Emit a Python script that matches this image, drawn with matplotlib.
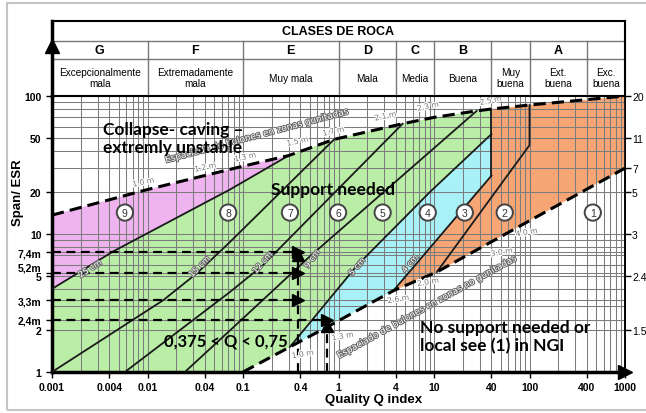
import matplotlib
matplotlib.use('Agg')
import matplotlib.pyplot as plt
import matplotlib.patheffects as pe
from matplotlib.patches import Polygon, Rectangle
from matplotlib.ticker import LogLocator, NullLocator
from matplotlib.transforms import ScaledTranslation
import numpy as np

# === data (Q index, Span/ESR) ===
upper_q = [0.001, 0.01, 0.1, 0.3, 0.9, 4.7, 10, 28, 40, 100, 1000]
upper_v = [13.7, 21, 31, 37, 48.5, 63, 70, 78, 80.5, 86, 100]

lower_q = [0.1, 0.31, 0.76, 3.75, 10.7, 79, 1000]
lower_v = [1, 1.52, 2.12, 3.88, 5.3, 11.4, 30]

cm25_q = [0.001, 0.0044, 0.073, 0.3]
cm25_v = [4.0, 7.5, 21, 37]
cm15_q = [0.001, 0.0071, 0.0145, 0.033, 0.073, 0.9]
cm15_v = [1, 2.4, 3.3, 5.2, 8.75, 48.5]
cm12_q = [0.0058, 0.073, 0.16, 4.7]
cm12_v = [1, 3.8, 5.9, 63]
cm9_q = [0.0246, 0.073, 0.48, 28]
cm9_v = [1, 2.0, 6.7, 78]
cm5_q = [0.31, 1.56, 9.1, 40]
cm5_v = [1.52, 5.9, 20.2, 53]
cm4_q = [3.75, 40]
cm4_v = [3.88, 26.5]
b40_q = [40, 40]
b40_v = [26.5, 80.5]
cat2_q = [10.7, 100, 100]
cat2_v = [5.3, 44, 86]

# rock classes
class_edges = [0.001, 0.01, 0.1, 1, 4, 10, 40, 100, 400, 1000]
class_letters = ['G', 'F', 'E', 'D', 'C', 'B', '', 'A', '']
class_names = ['Excepcionalmente\nmala', 'Extremadamente\nmala', 'Muy mala', 'Mala',
               'Media', 'Buena', 'Muy\nbuena', 'Ext.\nbuena', 'Exc.\nbuena']

# support categories
cat_labels = ['1', '2', '3', '4', '5', '6', '7', '8', '9']
cat_q = [460, 55, 21, 8.6, 2.9, 0.99, 0.31, 0.07, 0.0058]
cat_v = 14.3

# worked example
span_vals = [7.4, 5.2, 3.3]
span24 = 2.4
q_low, q_high = 0.375, 0.75

xticks = [0.001, 0.004, 0.01, 0.04, 0.1, 0.4, 1, 4, 10, 40, 100, 400, 1000]
xtick_lbls = ['0.001', '0.004', '0.01', '0.04', '0.1', '0.4', '1', '4', '10', '40', '100', '400', '1000']
yticks = [1, 2, 2.4, 3.3, 5, 5.2, 7.4, 10, 20, 50, 100]
ytick_lbls = ['1', '2', '2,4m', '3,3m', '5', '5,2m', '7,4m', '10', '20', '50', '100']
bolt_pos = [100, 50, 30, 20, 10, 5, 2]
bolt_lbls = ['20', '11', '7', '5', '3', '2.4', '1.5']

# bolt spacing labels along the dashed lines
sp_up_q = [0.009, 0.04, 0.105, 0.37, 0.88, 3.08, 8.6, 39]
sp_up_v = [23.8, 30.5, 36.2, 47, 55.6, 71.6, 84.3, 93]
sp_up_t = ['1.0 m', '1.2 m', '1.3 m', '1.5 m', '1.7 m', '2.1 m', '2.3 m', '2.5 m']
sp_lo_q = [0.42, 1.1, 4.2, 8.6, 51, 93]
sp_lo_v = [1.35, 1.82, 3.38, 4.5, 7.4, 10.3]
sp_lo_t = ['1.0 m', '1.3 m', '2.6 m', '2.0 m', '3.0 m', '4.0 m']

# shotcrete thickness labels
cm_q = [0.0025, 0.035, 0.16, 0.53, 1.56, 5.6]
cm_v = [5.6, 5.8, 6.2, 6.6, 5.8, 6.1]
cm_t = ['25 cm', '15 cm', '12 cm', '9 cm', '5 cm', '4 cm']
cm_rot = [33, 45, 50, 55, 50, 50]

PINK, GREEN, CYAN, ORANGE = '#EFB4EF', '#BAEEA6', '#A8F2F7', '#F5A674'
BIG = ['Lato', 'DejaVu Sans']
ARIAL = ['Liberation Sans', 'DejaVu Sans']

W, H = 646, 414
fig = plt.figure(figsize=(W / 100, H / 100), dpi=100)
fig.patches.append(Rectangle((7 / W, 1 - 411 / H), 660 / W, 407 / H, transform=fig.transFigure,
                             fill=False, ec='#c4c4c4', lw=1.5))


def frac(x0, y0, x1, y1):
    return [x0 / W, 1 - y1 / H, (x1 - x0) / W, (y1 - y0) / H]


ax = fig.add_axes(frac(52, 97, 625, 373))
ax.set_xscale('log')
ax.set_yscale('log')
ax.set_xlim(0.001, 1000)
ax.set_ylim(1, 100)


def seg(qs, vs, lo, hi):
    return [(q, v) for q, v in zip(qs, vs) if lo <= q <= hi]


pink = list(zip(cm25_q, cm25_v)) + seg(upper_q, upper_v, 0.001, 0.3)[::-1]
green = [(0.001, 1)] + seg(lower_q, lower_v, 0.1, 0.31) + list(zip(cm5_q, cm5_v))[1:] + \
    [(40, 80.5)] + seg(upper_q, upper_v, 0.3, 40)[::-1][1:] + list(zip(cm25_q, cm25_v))[::-1]
cyan = seg(lower_q, lower_v, 0.31, 3.75) + list(zip(cm4_q, cm4_v))[1:] + list(zip(cm5_q, cm5_v))[::-1]
orange = list(zip(cm4_q, cm4_v)) + seg(upper_q, upper_v, 40, 1000) + [(1000, 30)] + \
    seg(lower_q, lower_v, 3.75, 1000)[::-1][1:]
for pts, c in [(pink, PINK), (green, GREEN), (cyan, CYAN), (orange, ORANGE)]:
    ax.add_patch(Polygon(pts, closed=True, fc=c, ec='none', zorder=0.2))

ax.xaxis.set_minor_locator(LogLocator(base=10, subs=np.arange(2, 10)))
ax.yaxis.set_minor_locator(LogLocator(base=10, subs=np.arange(2, 10)))
ax.set_axisbelow(True)
ax.grid(True, which='both', color='#7c7c7c', lw=0.75)
ax.tick_params(which='minor', length=0, labelleft=False, labelbottom=False)

for qs, vs in [(cm25_q, cm25_v), (cm15_q, cm15_v), (cm12_q, cm12_v), (cm9_q, cm9_v),
               (cm5_q, cm5_v), (cm4_q, cm4_v), (b40_q, b40_v), (cat2_q, cat2_v)]:
    ax.plot(qs, vs, color='#1a1a1a', lw=1.3, zorder=3)
ax.plot(upper_q, upper_v, color='k', lw=2.2, ls=(0, (4, 2)), zorder=4, clip_on=False)
ax.plot(lower_q, lower_v, color='k', lw=2.2, ls=(0, (4, 2)), zorder=4, clip_on=False)

# worked example arrows
for v in span_vals:
    ax.plot([0.001, q_low], [v, v], color='k', lw=1.6, ls=(0, (4, 2.5)), zorder=5)
    ax.plot([q_low], [v], marker='>', ms=8, color='k', zorder=6, ls='none')
ax.plot([0.001, q_high], [span24, span24], color='k', lw=1.6, ls=(0, (4, 2.5)), zorder=5)
ax.plot([q_high], [span24], marker='>', ms=8, color='k', zorder=6, ls='none')
ax.plot([q_low, q_low], [1, 7.0], color='k', lw=1.6, ls=(0, (4, 2.5)), zorder=5)
ax.plot([q_low], [7.0], marker='^', ms=8, color='k', zorder=6, ls='none')
ax.plot([q_high, q_high], [1, 2.15], color='k', lw=1.6, ls=(0, (4, 2.5)), zorder=5)
ax.plot([q_high], [2.15], marker='^', ms=8, color='k', zorder=6, ls='none')

# category circles
for lbl, q in zip(cat_labels, cat_q):
    ax.text(q, cat_v, lbl, ha='center', va='center', fontsize=7.5, color='#333', zorder=7,
            family=ARIAL,
            bbox=dict(boxstyle='circle,pad=0.3', fc='white', ec='#444', lw=1.4))

halo = [pe.withStroke(linewidth=1.8, foreground='white')]
emboss = [pe.withStroke(linewidth=1.4, foreground='#6a6a6a')]
for q, v, t in zip(sp_up_q, sp_up_v, sp_up_t):
    ax.text(q, v, t, ha='center', va='center', fontsize=5.5, color='#777', rotation=12,
            path_effects=halo, zorder=6)
for q, v, t in zip(sp_lo_q, sp_lo_v, sp_lo_t):
    ax.text(q, v, t, ha='center', va='center', fontsize=5.5, color='#777', rotation=10,
            path_effects=halo, zorder=6)
for q, v, t, r in zip(cm_q, cm_v, cm_t, cm_rot):
    ax.text(q, v, t, ha='center', va='center', fontsize=6, color='white', rotation=r,
            path_effects=emboss, zorder=6)
ax.text(0.14, 51.5, 'Espaciado de bulones en zonas gunitadas', ha='center', va='center',
        fontsize=6.5, color='white', rotation=15, path_effects=emboss, zorder=6)
ax.text(8.45, 2.96, 'Espaciado de bulones en zonas no gunitadas', ha='center', va='center',
        fontsize=6.5, color='white', rotation=29, path_effects=emboss, zorder=6)

# annotations
ax.text(0.0034, 50, 'Collapse- caving –\nextremly unstable', ha='left', va='center',
        fontsize=12.5, fontweight='bold', family=BIG, linespacing=1.15, zorder=8)
ax.text(0.875, 21.2, 'Support needed', ha='center', va='center', fontsize=12.5,
        fontweight='bold', family=BIG, zorder=8)
ax.text(0.066, 1.68, '0,375 < Q < 0,75', ha='center', va='center', fontsize=12,
        fontweight='bold', family=BIG, zorder=8)
ax.text(7.1, 1.82, 'No support needed or\nlocal see (1) in NGI', ha='left', va='center',
        fontsize=12.5, fontweight='bold', family=BIG, linespacing=1.15, zorder=8)

# axes, ticks
ax.set_xticks(xticks, xtick_lbls)
ax.set_yticks(yticks, ytick_lbls)
ax.tick_params(which='major', labelsize=7.5, length=4, width=1)
for t in ax.get_xticklabels() + ax.get_yticklabels():
    t.set_fontweight('bold')
    t.set_family(ARIAL)
for t in ax.get_yticklabels():
    if t.get_text() == '5,2m':
        t.set_transform(t.get_transform() + ScaledTranslation(0, 0.07, fig.dpi_scale_trans))
ax.spines['left'].set_linewidth(2.5)
ax.spines['bottom'].set_linewidth(2.5)
ax.spines['right'].set_linewidth(1.2)
ax.spines['top'].set_linewidth(1.2)
ax.plot([1000], [1], marker='>', ms=10, color='k', clip_on=False, zorder=9)

sec = ax.secondary_yaxis('right')
sec.set_yticks(bolt_pos, bolt_lbls)
sec.yaxis.set_minor_locator(NullLocator())
sec.tick_params(length=4, width=1, labelsize=7.5, pad=1)
for t in sec.get_yticklabels():
    t.set_family(ARIAL)
sec.spines['right'].set_linewidth(1.2)

fig.text(325 / W, 1 - 400 / H, 'Quality Q index', ha='left', va='center', fontsize=9.5,
         fontweight='bold', family=ARIAL)
fig.text(18 / W, 1 - 193 / H, 'Span/ ESR', ha='center', va='center', rotation=90, fontsize=9.5,
         fontweight='bold', family=ARIAL)

# header table
hd = fig.add_axes(frac(52, 22, 625, 97))
hd.set_xscale('log')
hd.set_xlim(0.001, 1000)
hd.set_ylim(0, 75)
hd.tick_params(which='both', length=0, labelbottom=False, labelleft=False)
hd.xaxis.set_minor_locator(NullLocator())
for s in ['top', 'right', 'bottom']:
    hd.spines[s].set_linewidth(1.5)
hd.spines['left'].set_linewidth(2.5)
hd.axhline(37, color='#777', lw=1)
hd.axhline(55, color='#777', lw=1)
for e in class_edges[1:-1]:
    hd.plot([e, e], [0, 55], color='#777', lw=1)
hd.text(np.sqrt(0.001 * 1000), 65, 'CLASES DE ROCA', ha='center', va='center', fontsize=9,
        fontweight='bold', family=ARIAL)
for a, b, let, name in zip(class_edges[:-1], class_edges[1:], class_letters, class_names):
    xc = np.sqrt(a * b)
    hd.text(xc, 46, let, ha='center', va='center', fontsize=9, fontweight='bold', family=ARIAL)
    hd.text(xc, 18.5, name, ha='center', va='center', fontsize=7.2, linespacing=1.1,
            family=ARIAL)
hd.plot([0.001], [50], marker='^', ms=10, color='k', clip_on=False, zorder=9)

fig.savefig('out.png', dpi=100)
